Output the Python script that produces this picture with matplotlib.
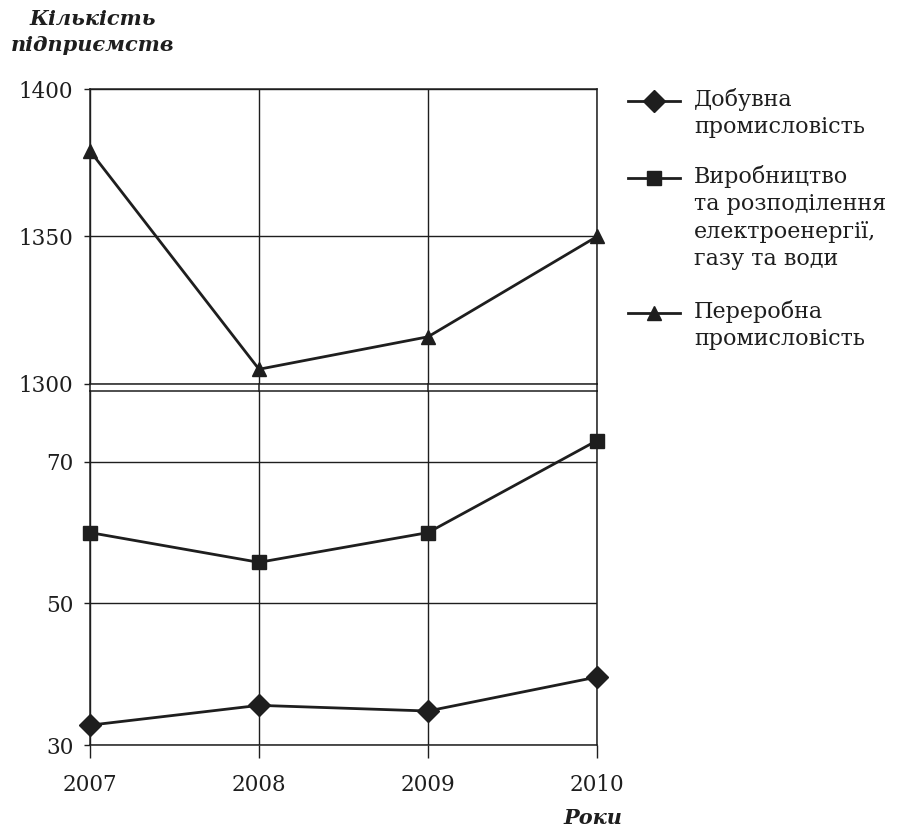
import matplotlib.pyplot as plt
from matplotlib.lines import Line2D
from matplotlib.transforms import blended_transform_factory

# data
years = [2007, 2008, 2009, 2010]
mining = [32.8, 35.6, 34.8, 39.6]         # Добувна промисловість
energy = [60, 55.8, 60, 73]               # Виробництво та розподілення ...
manufacturing = [1379, 1305, 1316, 1350]  # Переробна промисловість

upper_ticks = [1300, 1350, 1400]
lower_ticks = [30, 50, 70]

labels = ["Добувна\nпромисловість",
          "Виробництво\nта розподілення\nелектроенергії,\nгазу та води",
          "Переробна\nпромисловість"]

plt.rcParams['font.family'] = ['DejaVu Serif']
ink = '#1e1e1e'

fig = plt.figure(figsize=(8.97, 8.30), dpi=100)
W, H = 897, 830
left, right = 90 / W, 597 / W
ax_top = fig.add_axes([left, 1 - 384 / H, right - left, (384 - 89) / H])
ax_bot = fig.add_axes([left, 1 - 745 / H, right - left, (745 - 391) / H])

for ax in (ax_top, ax_bot):
    ax.set_xlim(2007, 2010)
    ax.set_xticks(years)
    for s in ax.spines.values():
        s.set_color(ink)
        s.set_linewidth(1.1)
    ax.grid(True, color=ink, linewidth=1.0)
    ax.tick_params(axis='y', length=4, width=1.0, pad=8, labelsize=15.5, colors=ink)
    ax.set_axisbelow(True)

ax_top.set_ylim(1300, 1400)
ax_top.set_yticks(upper_ticks)
ax_top.tick_params(axis='x', length=0, labelbottom=False)

ax_bot.set_ylim(30, 80)
ax_bot.set_yticks(lower_ticks)
ax_bot.tick_params(axis='x', length=9, width=1.0, pad=12, labelsize=15.5, colors=ink)

style = dict(color=ink, linewidth=2, clip_on=False, zorder=3)
l1, = ax_bot.plot(years, mining, marker='D', markersize=11, **style)
l2, = ax_bot.plot(years, energy, marker='s', markersize=10, **style)
l3, = ax_top.plot(years, manufacturing, marker='^', markersize=10, **style)

# vertical lines through the axis break
tr = blended_transform_factory(ax_top.transData, fig.transFigure)
for x in years:
    fig.add_artist(Line2D([x, x], [1 - 384 / H, 1 - 391 / H], transform=tr,
                          color=ink, linewidth=1.1))

# legend, drawn by hand so the handle sits on the first text line
entries = [(l1, 101), (l2, 178), (l3, 313)]
for (line, ypx), lab in zip(entries, labels):
    y = 1 - ypx / H
    fig.add_artist(Line2D([628 / W, 680 / W], [y, y], transform=fig.transFigure,
                          color=ink, linewidth=2))
    fig.add_artist(Line2D([654 / W], [y], transform=fig.transFigure,
                          marker=line.get_marker(), markersize=line.get_markersize(),
                          color=ink, linestyle='none'))
    fig.text(694 / W, y + 13 / H, lab, fontsize=16, color=ink, va='top', ha='left',
             linespacing=1.32)

fig.text(93 / W, 1 - 32 / H, "Кількість\nпідприємств", fontsize=15, color=ink,
         style='italic', weight='bold', ha='center', va='center', linespacing=1.35)
fig.text(593 / W, 1 - 818 / H, "Роки", fontsize=15, color=ink,
         style='italic', weight='bold', ha='center', va='center')

fig.savefig('out.png', dpi=100, facecolor='white')
